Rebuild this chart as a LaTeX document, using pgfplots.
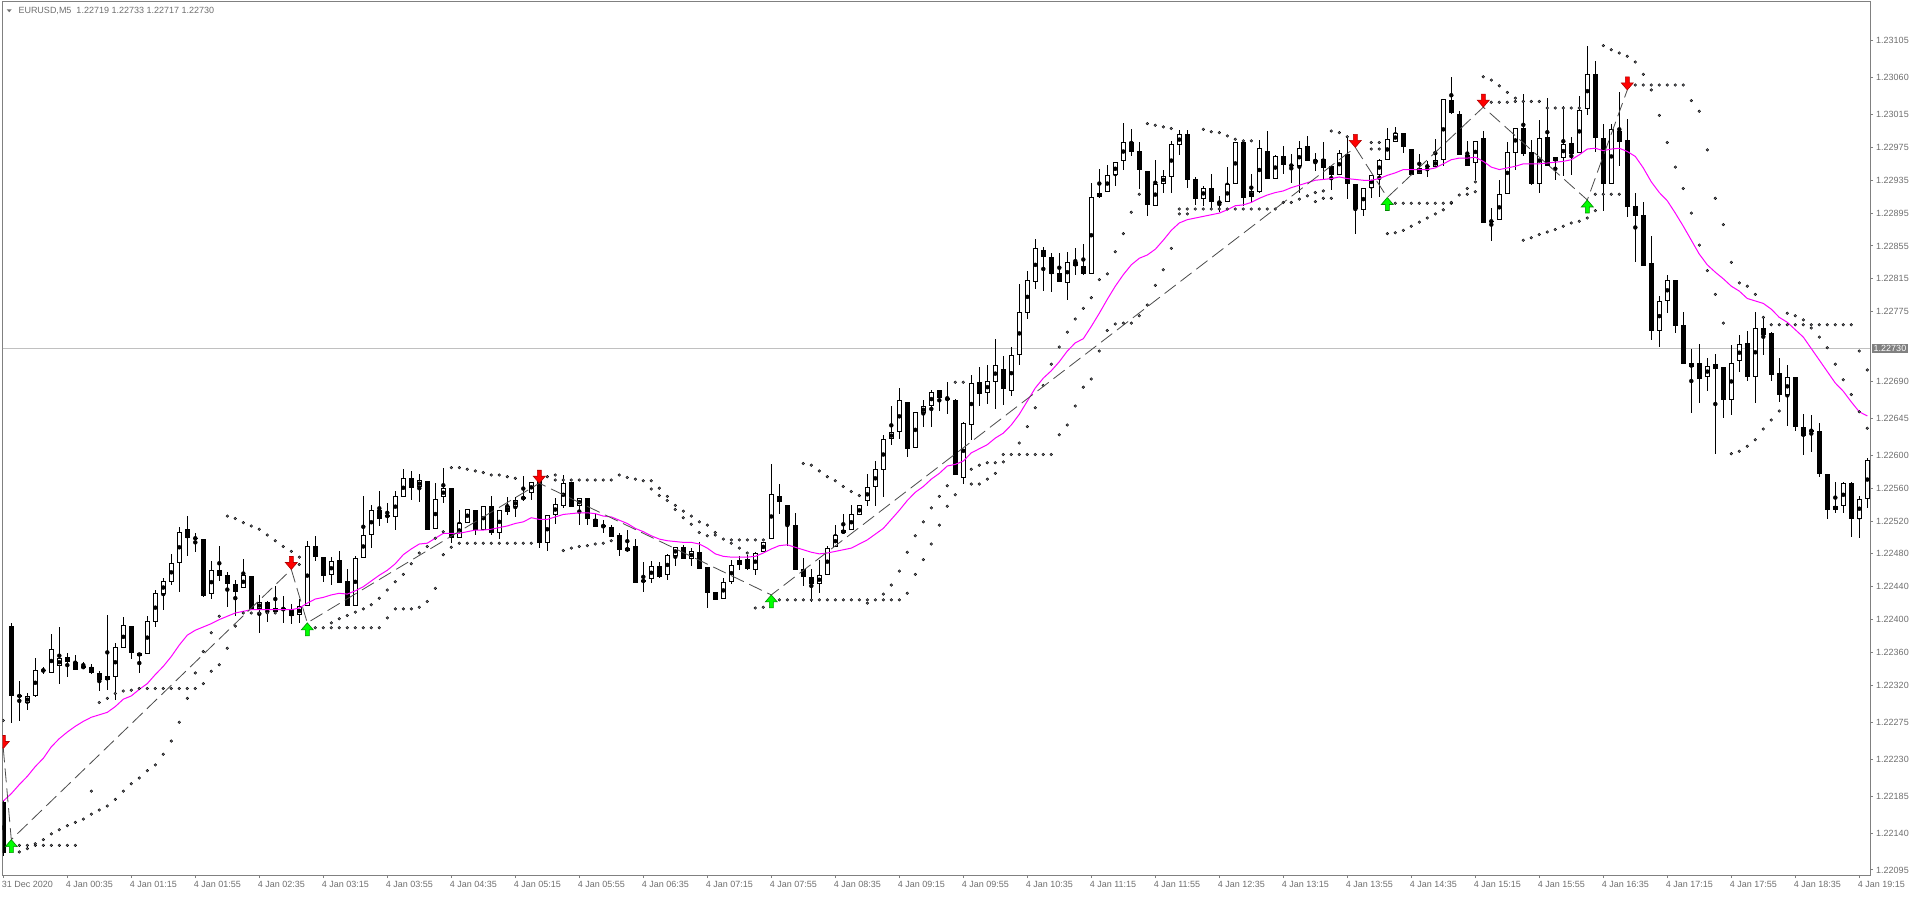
\documentclass[border=0pt]{standalone}
\usepackage{fontspec}
\setmainfont{Liberation Sans}
\usepackage{pgfplots}
\usepackage{pgfplotstable}
\pgfplotsset{compat=1.18}
\definecolor{axgray}{RGB}{128,128,128}
\definecolor{txtgray}{RGB}{110,110,110}
\definecolor{sargray}{RGB}{112,112,120}
\definecolor{zzgray}{RGB}{75,75,75}
\definecolor{pline}{RGB}{192,192,192}
\definecolor{mtred}{RGB}{255,0,0}
\definecolor{mtgreen}{RGB}{0,255,0}
\definecolor{mtmag}{RGB}{255,0,255}

\pgfdeclareplotmark{dnarrow}{%
  \pgfpathmoveto{\pgfpoint{0pt}{0pt}}%
  \pgfpathlineto{\pgfpoint{-6pt}{7pt}}%
  \pgfpathlineto{\pgfpoint{-2pt}{7pt}}%
  \pgfpathlineto{\pgfpoint{-2pt}{13pt}}%
  \pgfpathlineto{\pgfpoint{2pt}{13pt}}%
  \pgfpathlineto{\pgfpoint{2pt}{7pt}}%
  \pgfpathlineto{\pgfpoint{6pt}{7pt}}%
  \pgfpathclose\pgfusepathqfillstroke}
\pgfdeclareplotmark{uparrow}{%
  \pgfpathmoveto{\pgfpoint{0pt}{0pt}}%
  \pgfpathlineto{\pgfpoint{-6pt}{-7pt}}%
  \pgfpathlineto{\pgfpoint{-2pt}{-7pt}}%
  \pgfpathlineto{\pgfpoint{-2pt}{-13pt}}%
  \pgfpathlineto{\pgfpoint{2pt}{-13pt}}%
  \pgfpathlineto{\pgfpoint{2pt}{-7pt}}%
  \pgfpathlineto{\pgfpoint{6pt}{-7pt}}%
  \pgfpathclose\pgfusepathqfillstroke}

% prices in points above 1.22000 (value v means 1.22000 + v*0.00001)
\pgfplotstableread{
i o h l c
3 298 310 290 307
4 307 353 306 339
6 335 382 335 364
7 343 391 321 353
13 326 406 314 331
14 330 372 302 366
15 365 403 365 393
18 358 404 358 398
19 397 436 391 432
20 431 450 412 447
21 446 480 442 469
22 469 513 433 507
26 431 471 425 460
30 438 474 438 454
32 413 430 384 421
34 409 441 409 414
37 405 425 396 416
38 417 496 417 490
41 454 476 442 471
44 417 477 417 475
45 475 551 475 503
46 503 539 487 534
49 525 556 509 550
50 549 583 549 572
52 561 577 543 570
54 510 566 510 547
55 549 585 542 560
57 499 534 499 518
58 518 535 518 535
60 509 538 509 538
62 505 533 498 533
63 531 549 527 538
64 537 549 525 546
65 547 575 544 549
66 554 568 545 568
68 493 527 484 527
69 527 548 516 541
70 538 576 536 566
72 538 548 515 548
78 484 509 482 487
81 449 471 445 465
83 454 480 448 479
84 478 488 465 488
86 474 487 465 483
90 425 450 425 446
91 446 472 443 467
92 467 478 460 472
94 460 482 454 481
95 482 495 482 495
96 498 590 498 553
102 443 472 432 454
103 454 489 454 487
104 488 515 488 503
105 505 528 504 509
106 509 539 509 528
107 527 539 527 539
108 544 577 538 561
109 561 593 538 583
110 582 625 549 620
111 620 660 613 628
112 628 682 620 667
114 609 653 609 653
115 651 668 634 660
116 660 679 634 677
120 572 640 565 639
121 637 698 619 688
123 676 710 663 690
124 689 742 656 710
126 678 732 672 722
127 722 809 710 775
128 773 824 766 813
129 811 864 802 853
133 810 848 789 836
136 821 932 821 915
137 915 949 913 919
138 921 953 921 941
139 941 957 928 957
140 958 1005 947 982
144 904 960 904 931
145 931 948 920 940
146 939 983 920 979
147 978 996 966 991
150 912 928 904 926
153 908 951 908 930
154 930 981 930 981
156 914 943 909 922
157 921 984 920 974
159 936 966 936 965
162 952 983 920 974
164 957 968 946 960
167 941 972 941 968
170 899 925 892 925
171 925 941 914 941
172 941 961 915 960
173 960 999 960 985
174 982 1000 982 992
177 943 967 943 950
179 951 985 951 960
180 960 1034 952 1034
184 956 983 935 983
187 886 935 886 918
188 918 982 918 970
189 968 999 947 999
192 931 1008 919 987
194 958 963 935 963
195 962 1025 940 979
197 968 1038 968 1021
198 1022 1099 1015 1065
201 931 1004 931 997
207 751 794 732 788
208 788 820 773 814
211 707 729 652 712
213 695 718 678 709
216 667 734 649 713
217 715 747 702 735
219 696 774 664 755
223 673 710 636 695
229 534 567 530 538
230 538 567 530 566
232 523 550 499 547
233 547 597 536 594
}\bull

\pgfplotstableread{
i o h l c
0 178 180 112 116
1 392 396 274 307
2 307 325 277 307
5 339 342 334 337
8 354 359 330 348
9 348 357 338 338
10 343 348 341 341
11 342 346 334 335
12 335 337 313 326
16 392 392 352 359
17 359 359 335 356
23 510 526 477 499
24 499 506 482 499
25 498 498 427 429
27 460 490 447 453
28 454 458 415 443
29 443 448 404 434
31 453 453 413 413
33 421 423 397 413
35 413 429 396 413
36 413 419 394 404
39 489 502 471 476
40 476 476 446 453
42 473 483 445 445
43 447 461 416 416
47 534 557 514 522
48 527 542 518 525
51 572 581 546 560
53 569 569 509 509
56 560 560 493 499
59 534 534 503 509
61 538 551 503 505
67 570 578 487 493
71 568 568 537 537
73 548 548 515 523
74 523 528 513 513
75 515 521 506 513
76 513 515 501 501
77 503 505 478 485
79 490 498 444 445
80 447 470 434 447
82 465 470 451 452
85 488 491 474 474
87 482 494 462 462
88 464 464 414 432
89 433 433 424 424
93 474 479 460 461
97 551 565 529 543
98 540 540 490 515
99 515 530 460 460
100 461 475 441 452
101 452 461 421 443
113 665 665 598 608
117 679 680 654 670
118 670 689 650 667
119 667 668 576 576
122 689 708 660 675
125 705 721 661 681
130 850 854 800 841
131 841 847 799 821
132 822 846 811 811
134 835 853 820 830
135 830 857 820 821
141 982 997 964 969
142 971 982 924 947
143 946 946 892 905
148 991 996 925 935
149 937 939 905 912
151 926 943 900 908
152 908 916 896 908
155 981 983 904 913
158 971 995 936 936
160 965 977 943 953
161 954 967 932 952
163 977 989 958 958
165 961 982 936 950
166 952 952 923 941
168 967 986 912 930
169 930 930 870 900
175 992 992 968 975
176 973 973 941 941
178 952 958 939 952
181 1033 1061 1016 1017
182 1016 1019 966 966
183 966 983 952 952
185 987 995 883 883
186 885 901 861 885
190 999 1040 965 967
191 969 984 929 931
193 988 1035 952 952
196 980 988 941 967
199 1065 1080 969 987
200 987 1004 897 931
202 995 1042 952 982
203 984 1010 890 903
204 904 920 835 891
205 893 909 831 831
206 834 867 740 751
209 814 814 749 757
210 759 774 711 711
212 712 736 664 693
214 711 723 602 705
215 707 708 646 667
218 737 751 690 696
220 755 767 722 746
221 749 750 690 698
222 700 718 665 673
224 695 695 630 634
225 634 650 600 624
226 630 649 604 630
227 630 639 574 577
228 577 577 522 533
231 566 567 501 522
}\bear

\pgfplotstableread{
i v
0 179
1 188
2 199
3 209
4 221
5 231
6 245
7 255
8 263
9 270
10 276
11 281
12 284
13 287
14 294
15 303
16 307
17 315
18 322
19 333
20 343
21 355
22 369
23 381
24 387
25 391
26 395
27 400
28 404
29 408
30 410
31 412
32 412
33 412
34 412
35 412
36 412
37 414
38 420
39 425
40 427
41 430
42 432
43 431
44 435
45 440
46 447
47 454
48 460
49 468
50 479
51 486
52 492
53 493
54 499
55 505
56 505
57 505
58 507
59 509
60 509
61 510
62 512
63 514
64 517
65 519
66 524
67 522
68 522
69 525
70 528
71 529
72 530
73 530
74 529
75 526
76 525
77 521
78 517
79 511
80 507
81 502
82 498
83 496
84 495
85 494
86 494
87 492
88 487
89 480
90 477
91 476
92 476
93 476
94 477
95 481
96 486
97 490
98 491
99 488
100 485
101 482
102 480
103 481
104 483
105 485
106 487
107 492
108 497
109 504
110 511
111 522
112 533
113 545
114 555
115 562
116 571
117 578
118 587
119 589
120 593
121 603
122 608
123 613
124 621
125 627
126 637
127 650
128 666
129 682
130 694
131 703
132 714
133 727
134 737
135 742
136 757
137 773
138 790
139 806
140 820
141 832
142 840
143 844
144 851
145 862
146 874
147 883
148 887
149 889
150 891
151 893
152 895
153 899
154 904
155 905
156 908
157 913
158 917
159 920
160 922
161 926
162 929
163 932
164 935
165 936
166 937
167 939
168 937
169 936
170 935
171 935
172 937
173 941
174 944
175 948
176 948
177 948
178 948
179 950
180 955
181 960
182 962
183 962
184 963
185 958
186 951
187 948
188 950
189 952
190 955
191 955
192 955
193 956
194 957
195 958
196 960
197 966
198 973
199 974
200 971
201 973
202 974
203 970
204 964
205 950
206 933
207 920
208 910
209 895
210 879
211 862
212 845
213 832
214 823
215 815
216 806
217 800
218 791
219 788
220 785
221 778
222 768
223 762
224 753
225 744
226 730
227 716
228 702
229 688
230 678
231 665
232 653
233 648
}\ma

\pgfplotstableread{
i p
0 277
2 125
3 125
4 125
5 125
6 125
7 125
8 125
9 125
2 117
3 121
4 127
5 132
6 139
7 144
8 149
9 153
10 157
11 163
12 168
13 173
14 181
15 191
16 200
17 207
18 216
19 223
20 236
21 252
22 275
23 304
24 335
25 361
26 384
27 404
11 191
12 299
13 304
14 310
15 313
16 314
17 316
18 316
19 316
20 316
21 316
22 316
23 316
24 316
25 322
26 337
27 345
28 365
29 392
30 408
31 408
32 408
33 408
34 408
28 526
29 523
30 518
31 514
32 510
33 503
34 496
35 489
36 483
37 476
37 467
39 390
40 390
41 390
42 390
43 390
44 390
45 390
46 390
47 390
41 396
42 401
43 405
44 409
45 413
46 418
47 426
48 436
49 446
50 455
51 468
52 481
53 489
54 499
55 507
48 402
49 413
50 413
51 413
52 415
53 422
54 438
55 479
56 488
57 493
58 493
59 493
60 493
61 493
62 493
63 493
64 493
65 493
66 493
56 585
57 585
58 583
59 581
60 579
61 576
62 576
63 574
64 572
68 574
69 576
69 570
70 570
71 570
72 570
73 570
74 570
75 570
76 570
77 576
78 573
79 571
80 569
81 569
81 559
82 560
82 551
83 550
83 545
84 539
84 534
85 532
85 524
86 526
86 516
87 519
87 506
88 515
88 502
89 506
89 503
90 498
91 497
91 493
92 497
93 497
94 497
95 497
92 487
93 481
70 484
71 487
72 489
73 490
74 492
75 493
76 496
94 414
95 415
97 424
98 424
99 424
100 424
101 424
102 424
103 424
104 424
105 424
106 424
107 424
108 424
109 424
110 424
111 424
112 424
108 420
100 590
101 588
102 581
103 574
104 569
105 562
106 556
107 551
110 431
111 442
112 459
113 482
114 502
115 519
116 536
117 550
113 432
114 455
115 473
116 492
117 515
118 538
119 552
118 563
119 689
120 689
121 583
121 565
122 565
122 588
123 571
123 591
124 578
124 591
125 601
125 592
126 601
127 601
128 601
129 601
130 601
131 601
127 615
128 635
129 658
130 685
131 711
132 732
133 750
134 766
135 779
136 792
137 814
138 821
139 848
140 870
141 896
142 918
132 625
133 637
134 660
135 683
136 693
137 727
138 752
139 760
140 761
141 761
142 770
143 783
144 807
145 826
146 852
143 1004
144 1002
145 1000
146 998
147 900
148 900
149 900
150 900
151 900
152 900
153 900
154 900
155 900
156 900
157 900
147 894
148 894
150 997
151 994
152 993
153 989
154 985
155 983
156 983
158 900
159 900
160 908
161 908
162 912
163 916
164 920
165 922
164 909
165 913
166 913
166 995
167 993
168 988
171 981
171 973
172 981
172 973
174 907
175 907
176 907
177 907
178 907
179 907
180 907
181 907
173 870
174 871
175 874
176 879
177 884
178 889
179 894
180 899
181 908
182 917
183 925
184 933
183 918
184 921
185 1061
186 1057
187 1050
188 1042
186 1030
187 1030
188 1030
189 1035
189 1031
190 1031
191 1031
192 1031
193 1023
194 1023
195 1023
196 1023
197 1023
190 862
191 865
192 869
193 872
194 875
195 879
196 883
197 885
198 889
199 898
199 918
200 918
201 918
202 918
200 1099
201 1094
202 1090
203 1086
204 1079
205 1064
204 1051
205 1051
206 1051
207 1051
208 1051
209 1051
210 1051
206 1045
207 1014
208 981
209 951
210 925
211 895
212 856
213 825
214 796
215 761
211 1032
212 1019
213 972
214 913
215 881
216 835
217 810
218 806
219 796
220 768
221 759
222 759
223 759
224 759
225 759
226 759
227 759
228 759
229 759
230 759
231 759
223 773
224 770
225 765
226 755
227 744
228 731
229 711
230 692
231 674
232 653
233 633
232 727
233 704
216 602
217 605
218 611
219 619
220 632
221 643
222 654
}\sar

\pgfplotstableread{
i p
0 243
1 132
36 461
38 396
67 566
96 430
169 975
173 914
185 1024
198 911
203 1045
}\zigzag

\pgfplotstableread{
i p
0 243
36 461
67 566
169 975
185 1024
203 1045
}\redarr

\pgfplotstableread{
i p
1 132
38 396
96 430
173 914
198 911
}\greenarr

\begin{document}
\begin{tikzpicture}[x=1pt,y=1pt]
\begin{axis}[
  scale only axis, width=1867.5pt, height=873pt,
  xmin=-0.1, xmax=233.34, ymin=88.9, ymax=1152.1,
  clip mode=individual, clip marker paths=true,
  axis line style={axgray, line width=1pt},
  tick style={axgray, line width=1pt},
  tick align=outside, major tick length=3pt,
  xtick pos=left, ytick pos=right, yticklabel pos=right,
  xtick={0,8,...,232},
  xticklabels={31 Dec 2020,4 Jan 00:35,4 Jan 01:15,4 Jan 01:55,4 Jan 02:35,4 Jan 03:15,4 Jan 03:55,4 Jan 04:35,4 Jan 05:15,4 Jan 05:55,4 Jan 06:35,4 Jan 07:15,4 Jan 07:55,4 Jan 08:35,4 Jan 09:15,4 Jan 09:55,4 Jan 10:35,4 Jan 11:15,4 Jan 11:55,4 Jan 12:35,4 Jan 13:15,4 Jan 13:55,4 Jan 14:35,4 Jan 15:15,4 Jan 15:55,4 Jan 16:35,4 Jan 17:15,4 Jan 17:55,4 Jan 18:35,4 Jan 19:15},
  ytick={95,140,185,230,275,320,360,400,440,480,520,560,600,645,690,775,815,855,895,935,975,1015,1060,1105},
  yticklabels={1.22095,1.22140,1.22185,1.22230,1.22275,1.22320,1.22360,1.22400,1.22440,1.22480,1.22520,1.22560,1.22600,1.22645,1.22690,1.22775,1.22815,1.22855,1.22895,1.22935,1.22975,1.23015,1.23060,1.23105},
  tick label style={font=\fontsize{9}{10}\selectfont, text=txtgray},
  xticklabel style={anchor=north west, inner sep=0pt, xshift=-1.7pt, yshift=-3pt},
  yticklabel style={anchor=west, inner sep=0pt, xshift=3pt},
]
\addplot[pline, line width=1pt, mark=none, forget plot] coordinates {(-0.1,730) (233.34,730)};
\addplot[only marks, mark=none, forget plot, error bars/.cd, y dir=both, y explicit, error mark=none,
  error bar style={draw=black, line width=1pt}]
  table[x=i, y expr={(\thisrow{h}+\thisrow{l})/2}, y error expr={(\thisrow{h}-\thisrow{l})/2}] {\bear};
\addplot[only marks, mark=none, forget plot, error bars/.cd, y dir=both, y explicit, error mark=none,
  error bar style={draw=black, line width=1pt}]
  table[x=i, y expr={(\thisrow{h}+\thisrow{l})/2}, y error expr={(\thisrow{h}-\thisrow{l})/2}] {\bull};
\addplot[only marks, mark=none, forget plot, error bars/.cd, y dir=both, y explicit, error mark=none,
  error bar style={draw=black, line width=5pt}]
  table[x=i, y expr={(\thisrow{o}+\thisrow{c})/2}, y error expr={max(abs(\thisrow{o}-\thisrow{c})/2,0.61)}] {\bear};
\addplot[only marks, mark=none, forget plot, error bars/.cd, y dir=both, y explicit, error mark=none,
  error bar style={draw=black, line width=5pt}]
  table[x=i, y expr={(\thisrow{o}+\thisrow{c})/2}, y error expr={max(abs(\thisrow{o}-\thisrow{c})/2,0.61)}] {\bull};
\addplot[only marks, mark=none, forget plot, error bars/.cd, y dir=both, y explicit, error mark=none,
  error bar style={draw=white, line width=3pt}]
  table[x=i, y expr={(\thisrow{o}+\thisrow{c})/2}, y error expr={max(abs(\thisrow{o}-\thisrow{c})/2-1.218,0)}] {\bull};
\addplot[mtmag, line width=1pt, mark=none] table[x=i, y=v] {\ma};
\addplot[only marks, mark=*, mark size=1.35pt, mark options={fill=sargray, draw=none}] table[x=i, y=p] {\sar};
\addplot[zzgray, line width=0.8pt, dash pattern=on 14pt off 6pt, mark=none] table[x=i, y=p] {\zigzag};
\addplot[only marks, mark=dnarrow, mark options={fill=mtred, draw=red!70!black, line width=0.6pt}] table[x=i, y=p] {\redarr};
\addplot[only marks, mark=uparrow, mark options={fill=mtgreen, draw=green!55!black, line width=0.6pt}] table[x=i, y=p] {\greenarr};
\coordinate (bl) at (rel axis cs:0,0);
\coordinate (tr) at (rel axis cs:1,1);
\coordinate (pbox) at (axis cs:233.34,730);
\end{axis}
\node[anchor=west, fill=axgray, text=white, font=\fontsize{9}{10}\selectfont, inner xsep=2pt, inner ysep=1.2pt, xshift=1.5pt] at (pbox) {1.22730};
\fill[txtgray] ([shift={(4.2,-7.3)}]bl|-tr) -- ([shift={(9.2,-7.3)}]bl|-tr) -- ([shift={(6.7,-10.3)}]bl|-tr) -- cycle;
\node[anchor=base west, inner sep=0pt, text=txtgray, font=\fontsize{9}{10}\selectfont] at ([shift={(15.8,-11.7)}]bl|-tr) {EURUSD,M5\ \ 1.22719 1.22733 1.22717 1.22730};
\pgfresetboundingbox
\useasboundingbox ([shift={(-2.5,-21)}]bl) rectangle ([shift={(46,2)}]tr);
\end{tikzpicture}
\end{document}
